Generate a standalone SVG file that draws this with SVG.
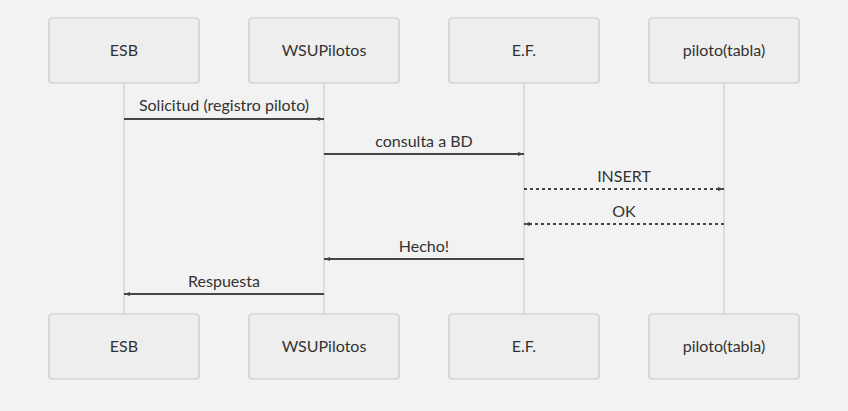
<svg xmlns="http://www.w3.org/2000/svg" width="848" height="411" viewBox="0 0 848 411">
<style>
.bg{fill:#f2f2f2}
.box{fill:#eeeeee;stroke:#c8c8c8;stroke-width:1.2}
.life{stroke:#d6d6d6;stroke-width:1.5;fill:none}
.t{font-family:Lato,"Open Sans","Liberation Sans",sans-serif;font-size:16px;fill:#333;text-anchor:middle}
.msg{stroke:#444;stroke-width:2;fill:none}
.dash{stroke-dasharray:3,3}
</style>
<defs>
<marker id="ah" viewBox="0 0 10 10" refX="10" refY="5" markerWidth="6" markerHeight="6" orient="auto" markerUnits="userSpaceOnUse" overflow="visible">
<path d="M0,1.5 L10,5 L0,8.5 z" fill="#444"/>
</marker>
</defs>
<rect class="bg" x="0" y="0" width="848" height="411"/>
<g id="lifelines">
<line class="life" x1="124" y1="83" x2="124" y2="314"/>
<line class="life" x1="324" y1="83" x2="324" y2="314"/>
<line class="life" x1="524" y1="83" x2="524" y2="314"/>
<line class="life" x1="724" y1="83" x2="724" y2="314"/>
</g>
<g id="esb-top"><rect class="box" x="49" y="18" width="150" height="65" rx="3"/><text class="t" x="124" y="56">ESB</text></g>
<g id="ws-top"><rect class="box" x="249" y="18" width="150" height="65" rx="3"/><text class="t" x="324" y="56">WSUPilotos</text></g>
<g id="ef-top"><rect class="box" x="449" y="18" width="150" height="65" rx="3"/><text class="t" x="524" y="56">E.F.</text></g>
<g id="pt-top"><rect class="box" x="649" y="18" width="150" height="65" rx="3"/><text class="t" x="724" y="56">piloto(tabla)</text></g>
<g id="esb-bot"><rect class="box" x="49" y="314" width="150" height="65" rx="3"/><text class="t" x="124" y="352">ESB</text></g>
<g id="ws-bot"><rect class="box" x="249" y="314" width="150" height="65" rx="3"/><text class="t" x="324" y="352">WSUPilotos</text></g>
<g id="ef-bot"><rect class="box" x="449" y="314" width="150" height="65" rx="3"/><text class="t" x="524" y="352">E.F.</text></g>
<g id="pt-bot"><rect class="box" x="649" y="314" width="150" height="65" rx="3"/><text class="t" x="724" y="352">piloto(tabla)</text></g>
<g id="connectors">
<line class="msg" x1="124" y1="119" x2="324" y2="119" marker-end="url(#ah)"/>
<text class="t" x="224" y="111">Solicitud (registro piloto)</text>
<line class="msg" x1="324" y1="154" x2="524" y2="154" marker-end="url(#ah)"/>
<text class="t" x="424" y="147">consulta a BD</text>
<line class="msg dash" x1="524" y1="189" x2="724" y2="189" marker-end="url(#ah)"/>
<text class="t" x="624" y="182">INSERT</text>
<line class="msg dash" x1="724" y1="224" x2="524" y2="224" marker-end="url(#ah)"/>
<text class="t" x="624" y="217">OK</text>
<line class="msg" x1="524" y1="259" x2="324" y2="259" marker-end="url(#ah)"/>
<text class="t" x="424" y="252">Hecho!</text>
<line class="msg" x1="324" y1="294" x2="124" y2="294" marker-end="url(#ah)"/>
<text class="t" x="224" y="287">Respuesta</text>
</g>
</svg>
